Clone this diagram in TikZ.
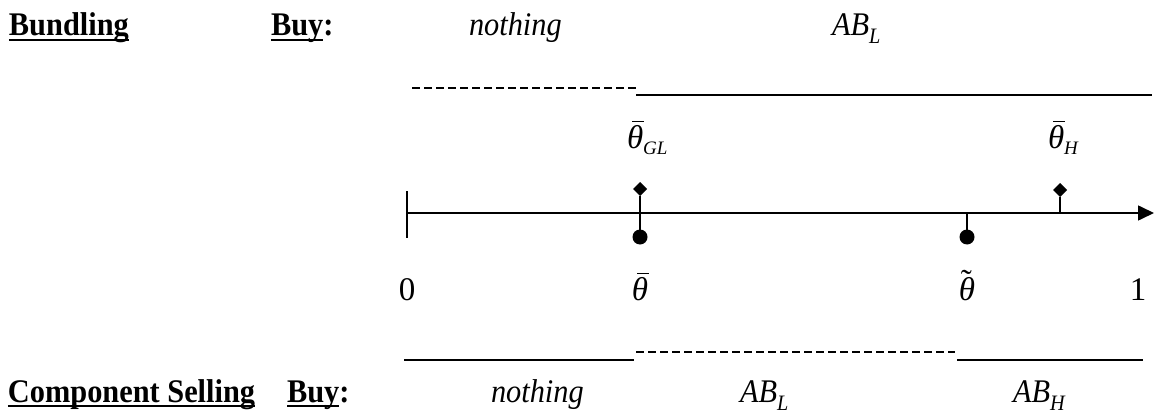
\documentclass[tikz,border=0pt]{standalone}
\usepackage{fontspec}
\setmainfont{Liberation Serif}[FakeStretch=0.92]
\newfontfamily\lblfont{Liberation Serif}
\usetikzlibrary{arrows.meta,shapes.geometric}

% accented theta labels
\newcommand{\thbar}{\setbox0\hbox{\itshape θ}\rlap{\hspace{0.32\wd0}\raisebox{1.12\ht0}{\rule{0.72\wd0}{1.3pt}}}\box0}
\newcommand{\thtil}{\setbox0\hbox{\itshape θ}\rlap{\hspace{0.12\wd0}\raisebox{0.32\ht0}{\symbol{"02DC}}}\box0}
\newcommand{\lowsub}[3]{\raisebox{#2}{\fontsize{#1}{#1}\selectfont\itshape #3}}
\newcommand{\thickul}[1]{\setbox0\hbox{#1}\rlap{\rule[-5pt]{\wd0}{2.4pt}}\box0}

\begin{document}
\begin{tikzpicture}[x=1pt, y=-1pt,
  every node/.style={inner sep=0pt, outer sep=0pt},
  head/.style={anchor=base west, font=\fontsize{33}{37}\selectfont\bfseries},
  choice/.style={anchor=base west, font=\fontsize{33}{37}\selectfont\itshape},
  mlabel/.style={anchor=base, font=\lblfont\fontsize{33}{37}\selectfont},
  axisline/.style={line width=1.6pt},
  stem/.style={line width=1.6pt},
  dot/.style={circle, fill=black, minimum size=15pt},
  tipmark/.style={diamond, fill=black, minimum size=14pt},
  solidseg/.style={line width=1.1pt},
  dashseg/.style={line width=1.1pt, dash pattern=on 8pt off 4pt}
]
\useasboundingbox (0,0) rectangle (1160,420);

% top row
\node[head] (bund) at (9,36) {\thickul{Bundling}};
\node[head] (buytop) at (271,36) {\thickul{Buy}:};
\node[choice] (nothtop) at (469,36) {nothing};
\node[choice] (abltop) at (832,36) {AB\lowsub{22}{-8pt}{L}};

\coordinate (t0) at (412,88);
\coordinate (t1) at (636,88);
\coordinate (t2) at (636,95);
\coordinate (t3) at (1152,95);
\draw[dashseg] (t0) -- (t1);
\draw[solidseg] (t2) -- (t3);

% upper labels
\node[mlabel, anchor=base west] (thgl) at (627,148) {\thbar\lowsub{19}{-6pt}{GL}};
\node[mlabel, anchor=base west] (thh) at (1048,148) {\thbar\lowsub{19}{-6pt}{H}};

% axis
\coordinate (ax0) at (407,213);
\coordinate (ax1) at (1154,213);
\coordinate (tk0) at (407,191);
\coordinate (tk1) at (407,238);
\draw[axisline, -{Triangle[length=16pt, width=15pt]}] (ax0) -- (ax1);
\draw[axisline] (tk0) -- (tk1);

\node[tipmark] (dgl) at (640,189) {};
\node[dot] (cbar) at (640,237) {};
\draw[stem] (dgl) -- (cbar);

\coordinate (ktil) at (967,213);
\node[dot] (ctil) at (967,237) {};
\draw[stem] (ktil) -- (ctil);

\coordinate (kh) at (1060,213);
\node[tipmark] (dh) at (1060,190) {};
\draw[stem] (kh) -- (dh);

% lower labels
\node[mlabel] (zero) at (407,300) {0};
\node[mlabel] (thb) at (640,300) {\thbar};
\node[mlabel] (tht) at (967,300) {\thtil};
\node[mlabel] (one) at (1138,300) {1};

% bottom row
\coordinate (b0) at (404,360);
\coordinate (b1) at (634,360);
\coordinate (b2) at (636,352);
\coordinate (b3) at (955,352);
\coordinate (b4) at (957,360);
\coordinate (b5) at (1143,360);
\draw[solidseg] (b0) -- (b1);
\draw[dashseg] (b2) -- (b3);
\draw[solidseg] (b4) -- (b5);

\node[head] (comp) at (8,402) {\thickul{Component Selling}};
\node[head] (buybot) at (287,402) {\thickul{Buy}:};
\node[choice] (nothbot) at (491,402) {nothing};
\node[choice] (ablbot) at (740,402) {AB\lowsub{22}{-8pt}{L}};
\node[choice] (abhbot) at (1013,402) {AB\lowsub{22}{-8pt}{H}};
\end{tikzpicture}
\end{document}
